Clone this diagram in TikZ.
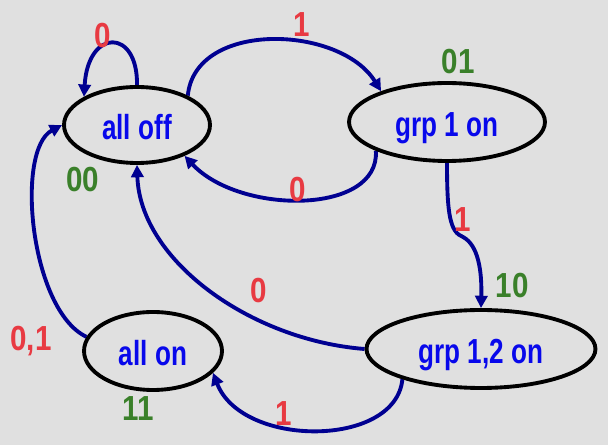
\documentclass[tikz,border=0pt]{standalone}
\usepackage{fontspec}
\usepackage{tikz}
\usetikzlibrary{shapes.geometric,arrows.meta}
\newfontfamily\statefont{Liberation Sans}[FakeStretch=0.75]
\newfontfamily\markfont{Liberation Sans}[FakeStretch=0.85]
\definecolor{bggray}{RGB}{224,224,224}
\definecolor{stateblue}{RGB}{8,8,235}
\definecolor{arrownavy}{RGB}{0,0,145}
\definecolor{inred}{RGB}{232,58,66}
\definecolor{codegreen}{RGB}{58,128,42}
\pgfdeclarelayer{bg}
\pgfsetlayers{bg,main}
\tikzset{
  state/.style={ellipse, draw=black, line width=2.2pt, inner sep=0pt, text=stateblue,
    font=\statefont\bfseries\fontsize{19.8pt}{22pt}\selectfont,
    text height=16.4pt, text depth=0pt},
  trans/.style={draw=arrownavy, line width=2.2pt, -{Triangle[length=7pt,width=7pt]}},
  inlabel/.style={anchor=base, text=inred, font=\markfont\bfseries\fontsize{19.8pt}{22pt}\selectfont},
  codelabel/.style={anchor=base, text=codegreen, font=\markfont\bfseries\fontsize{19.8pt}{22pt}\selectfont},
}
\begin{document}
\begin{tikzpicture}[x=0.02cm, y=-0.02cm]
    \useasboundingbox (0,0) rectangle (608,445);

    \node (alloff) [state, minimum width=2.92cm, minimum height=1.52cm] at (137,125) {all off};
    \node (grp1) [state, minimum width=3.92cm, minimum height=1.56cm] at (447,122) {grp 1 on};
    \node (allon) [state, minimum width=2.76cm, minimum height=1.56cm] at (153,351) {all on};
    \node (grp12) [state, minimum width=4.58cm, minimum height=1.56cm] at (481,349) {grp 1,2 on};

    \node (in00) [inlabel] at (103,48) {0};
    \node (in01) [inlabel] at (302,37) {1};
    \node (in10) [inlabel] at (298,202) {0};
    \node (in11) [inlabel] at (463,232) {1};
    \node (in20) [inlabel] at (259,303) {0};
    \node (in21) [inlabel] at (284,425) {1};
    \node (in30) [inlabel] at (31,351) {0,1};

    \node (c00) [codelabel] at (83,192) {00};
    \node (c01) [codelabel] at (458,74) {01};
    \node (c10) [codelabel] at (512,298) {10};
    \node (c11) [codelabel] at (138,420) {11};

    \begin{pgfonlayer}{bg}
        \fill[bggray] (0,0) rectangle (608,445);
        \draw[trans] (alloff.north) .. controls (138,28) and (88,28) .. (alloff.152);
        \draw[trans] (alloff.30) .. controls (195,20) and (340,25) .. (grp1.155);
        \draw[trans] (grp1.202) .. controls (380,215) and (240,215) .. (alloff.327);
        \draw[trans] (grp1.south) .. controls (447,215) and (450,232) .. (463,237)
            .. controls (478,245) and (482,270) .. (grp12.north);
        \draw[trans] (grp12.west) .. controls (250,340) and (140,260) .. (alloff.south);
        \draw[trans] (grp12.201) .. controls (396,448) and (242,448) .. (allon.340);
        \draw[trans] (allon.168) .. controls (30,310) and (15,150) .. (alloff.west);
    \end{pgfonlayer}
\end{tikzpicture}
\end{document}
